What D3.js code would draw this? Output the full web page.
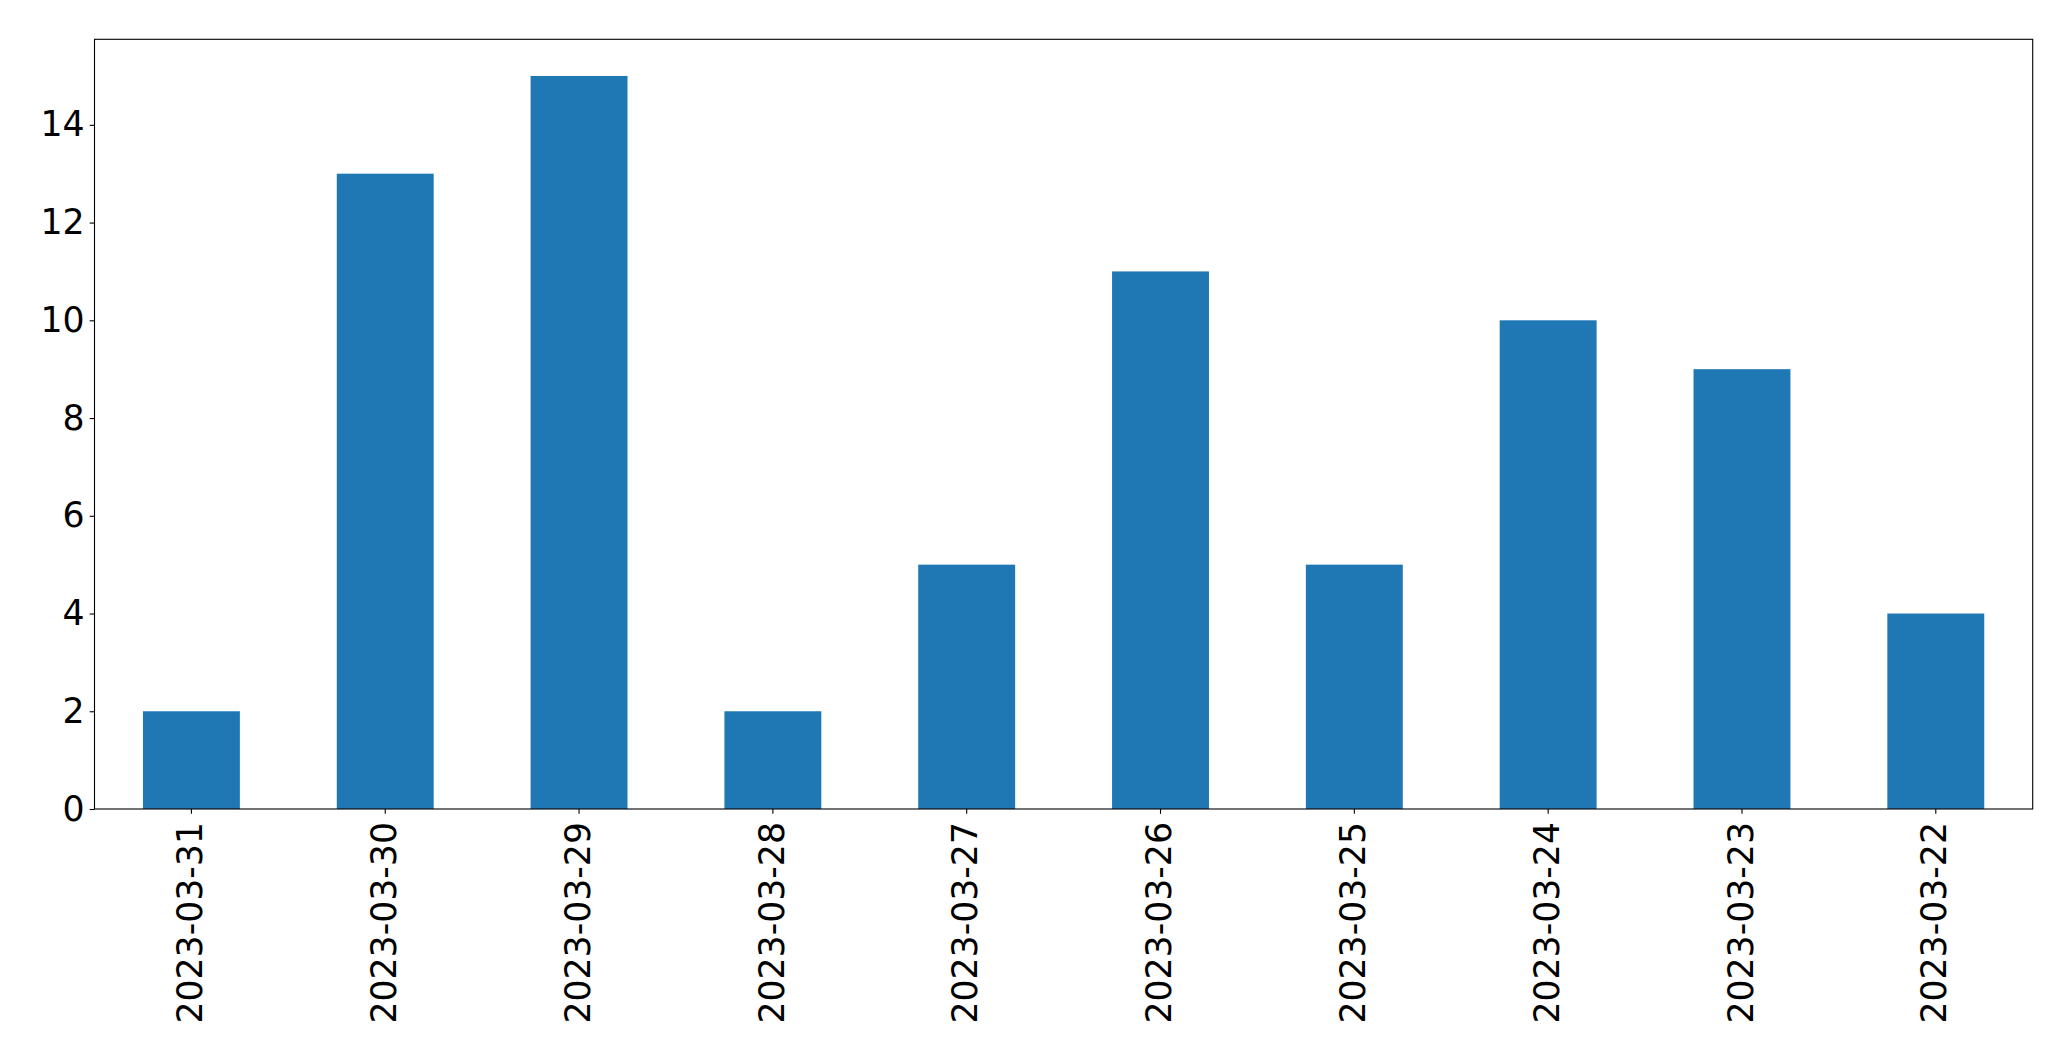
<!DOCTYPE html>
<html>
<head>
<meta charset="utf-8">
<script src="https://cdn.jsdelivr.net/npm/d3@7"></script>
<style>
  html, body { margin: 0; padding: 0; background: #fff; }
  svg { display: block; }
  text { font-family: "DejaVu Sans", sans-serif; fill: #000; }
</style>
</head>
<body>
<svg id="chart" width="2071" height="1061"></svg>
<script>
const categories = ["2023-03-31","2023-03-30","2023-03-29","2023-03-28","2023-03-27","2023-03-26","2023-03-25","2023-03-24","2023-03-23","2023-03-22"];
const values = [2, 13, 15, 2, 5, 11, 5, 10, 9, 4];
const yTicks = [0, 2, 4, 6, 8, 10, 12, 14];

(function () {
const svg = d3.select("#chart");
const mLeft = 94.5, mRight = 2032.7, mTop = 39.3, mBottom = 809;
const fontSize = 34.7;

const x = d3.scaleBand().domain(categories).range([mLeft, mRight]).paddingInner(0.5).paddingOuter(0.25);
const y = d3.scaleLinear().domain([0, d3.max(values) * 1.05]).range([mBottom, mTop]);

svg.append("g").selectAll("rect").data(values).join("rect")
  .attr("x", (d, i) => x(categories[i]))
  .attr("y", d => y(d))
  .attr("width", x.bandwidth())
  .attr("height", d => y(0) - y(d))
  .attr("fill", "#1f77b4");

const yAxis = svg.append("g").attr("transform", `translate(${mLeft},0)`)
  .call(d3.axisLeft(y).tickValues(yTicks).tickFormat(d3.format("d")).tickSize(4.86).tickPadding(5));
yAxis.select(".domain").remove();
yAxis.selectAll(".tick line").attr("stroke", "#000").attr("stroke-width", 1.1);
yAxis.selectAll(".tick text").style("font-size", fontSize + "px").style("font-family", "DejaVu Sans").attr("fill", "#000");

const xAxis = svg.append("g").attr("transform", `translate(0,${mBottom})`)
  .call(d3.axisBottom(x).tickSize(4.86).tickPadding(0));
xAxis.select(".domain").remove();
xAxis.selectAll(".tick line").attr("stroke", "#000").attr("stroke-width", 1.1);
xAxis.selectAll(".tick text")
  .style("font-size", fontSize + "px").style("font-family", "DejaVu Sans").attr("fill", "#000")
  .attr("text-anchor", "end")
  .attr("dy", "0.35em")
  .attr("x", -13)
  .attr("y", -1.5)
  .attr("transform", "rotate(-90)");

svg.append("rect")
  .attr("x", mLeft).attr("y", mTop)
  .attr("width", mRight - mLeft).attr("height", mBottom - mTop)
  .attr("fill", "none").attr("stroke", "#000").attr("stroke-width", 1.1);
})();
</script>
</body>
</html>
